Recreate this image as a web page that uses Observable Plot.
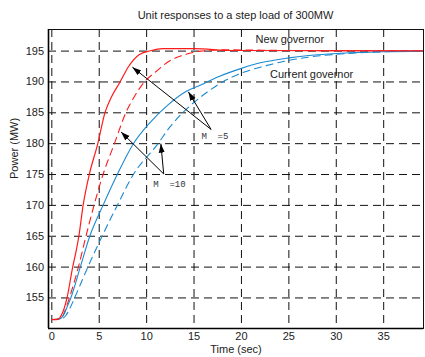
<!DOCTYPE html>
<html><head><meta charset="utf-8">
<script src="https://cdn.jsdelivr.net/npm/d3@7"></script>
<script src="https://cdn.jsdelivr.net/npm/@observablehq/plot@0.6"></script>
<style>
body{margin:0;background:#fff;font-family:"Liberation Sans",Arial,sans-serif;}
#title{width:425px;height:22px;box-sizing:border-box;padding:9px 2px 0 48px;line-height:12px;font-size:11px;text-align:center;color:#222;}
</style></head><body>
<div id="title">Unit responses to a step load of 300MW</div>
<div id="chart"></div>
<script>
// Tick values
const xTicks = [0, 5, 10, 15, 20, 25, 30, 35];
const yTicks = [155, 160, 165, 170, 175, 180, 185, 190, 195];

// New governor, M=5 (red solid)
const redSolidT = [0, 0.5, 0.8, 1.0, 1.3, 1.6, 2.2, 2.55, 2.85, 3.3, 3.95, 4.85, 5.6, 6.3, 7.2, 8.1, 9.2, 10.4, 11.7, 15, 19, 39.2];
const redSolidP = [151.5, 151.5, 151.7, 152.2, 153.3, 155, 160, 162.5, 165, 170, 175, 180, 185, 187.6, 190, 192.5, 194.4, 195.05, 195.4, 195.4, 195.1, 195.05];

// New governor, M=10 (red dashed)
const redDashT = [0, 0.8, 1.2, 1.5, 1.85, 2.8, 3.6, 4.45, 5.4, 6.6, 7.8, 8.7, 9.6, 11, 12.4, 14, 15.7, 18, 25, 39.2];
const redDashP = [151.5, 151.6, 152.2, 153.4, 155, 160, 165, 170, 175, 180, 185, 187.6, 189.7, 191.7, 193.4, 194.4, 195, 195.2, 195.1, 195.05];

// Current governor, M=5 (blue solid)
const blueSolidT = [0, 0.8, 1.3, 1.6, 2.0, 3.0, 4.0, 5.4, 6.9, 8.6, 10.4, 12.2, 14.1, 15.7, 17.5, 20, 22, 25, 30, 35, 39.2];
const blueSolidP = [151.5, 151.6, 152.4, 153.5, 155, 160, 165, 170, 175, 180, 183.5, 186.2, 188.4, 189.5, 190.8, 192.2, 193.1, 193.9, 194.6, 194.9, 195];

// Current governor, M=10 (blue dashed)
const blueDashT = [0, 1.0, 1.5, 1.9, 2.4, 3.8, 5.3, 6.9, 8.6, 11.2, 12.4, 14.2, 15.9, 18, 20.3, 22.5, 25, 28, 31, 35, 39.2];
const blueDashP = [151.5, 151.6, 152.2, 153.3, 155, 160, 165, 170, 175, 180, 182.6, 185.6, 187.8, 190, 191.6, 192.6, 193.5, 194.2, 194.6, 194.9, 195];

// Annotation arrows (tail -> tip)
const arrowTailT = [16.8, 16.8, 11.8, 11.8];
const arrowTailP = [182.3, 182.3, 175.1, 175.1];
const arrowTipT = [8.5, 14.4, 7.3, 11.5];
const arrowTipP = [192.4, 188.4, 181.9, 180.0];

// Annotation labels
const mLabels = ["M\u00a0\u00a0=5", "M\u00a0\u00a0=10"];
const mLabelT = [17.2, 12.4];
const mLabelP = [181.3, 173.4];
const seriesLabels = ["New governor", "Current governor"];
const seriesLabelT = [25.1, 27.4];
const seriesLabelP = [196.9, 191.2];

const xDomain = [-0.35, 39.2];
const yDomain = [150.05, 198.5];

function filledArrow(color, context) {
  const m = d3.create("svg:marker")
    .attr("viewBox", "-9 -4 10 8")
    .attr("markerWidth", 10).attr("markerHeight", 8)
    .attr("markerUnits", "userSpaceOnUse")
    .attr("orient", "auto")
    .attr("fill", "black").attr("stroke", "none");
  m.append("path").attr("d", "M-9,-3L0,0L-9,3Z");
  return m.node();
}

const red = "#ff1a1a", blue = "#1b8ad0";
const dash = {stroke: "#111", strokeOpacity: 1, strokeWidth: 1, strokeDasharray: "8,5"};

const chart = Plot.plot({
  width: 425, height: 335,
  marginLeft: 48, marginRight: 2, marginTop: 7, marginBottom: 29,
  style: {fontFamily: "'Liberation Sans', Arial, sans-serif", fontSize: "11px", color: "#222", background: "#fff"},
  x: {domain: xDomain},
  y: {domain: yDomain},
  marks: [
    Plot.gridX(xTicks, dash),
    Plot.gridY(yTicks, dash),
    Plot.line(redDashP, {x: redDashT, y: redDashP, stroke: red, strokeWidth: 1.1, strokeDasharray: "7,5", curve: "monotone-x"}),
    Plot.line(blueDashP, {x: blueDashT, y: blueDashP, stroke: blue, strokeWidth: 1.1, strokeDasharray: "7,5", curve: "monotone-x"}),
    Plot.line(blueSolidP, {x: blueSolidT, y: blueSolidP, stroke: blue, strokeWidth: 1.1, curve: "monotone-x"}),
    Plot.line(redSolidP, {x: redSolidT, y: redSolidP, stroke: red, strokeWidth: 1.2, curve: "monotone-x"}),
    Plot.link(arrowTipT, {x1: arrowTailT, y1: arrowTailP, x2: arrowTipT, y2: arrowTipP, stroke: "black", strokeWidth: 1, markerEnd: filledArrow}),
    Plot.text(mLabels, {x: mLabelT, y: mLabelP, text: d => d, fontFamily: "'Liberation Mono', 'DejaVu Sans Mono', monospace", fontSize: 9, fill: "#333"}),
    Plot.text(seriesLabels, {x: seriesLabelT, y: seriesLabelP, text: d => d, fontSize: 11, fill: "#222"}),
    Plot.frame({stroke: "#111", strokeWidth: 1}),
    Plot.ruleX([xDomain[0]], {stroke: "#000", strokeWidth: 1.6}),
    Plot.ruleY([yDomain[0]], {stroke: "#000", strokeWidth: 1.6}),
    Plot.axisX(xTicks, {tickSize: 0, tickPadding: 4, label: null, fontSize: 11}),
    Plot.axisY(yTicks, {tickSize: 0, tickPadding: 4.5, label: null, fontSize: 11}),
    Plot.text(["Time (sec)"], {frameAnchor: "bottom", dy: 24, text: d => d, fontSize: 11, fill: "#222"}),
    Plot.text(["Power (MW)"], {frameAnchor: "left", dx: -34, rotate: -90, text: d => d, fontSize: 11, fill: "#222"})
  ]
});
document.getElementById("chart").appendChild(chart);
</script>
</body></html>
